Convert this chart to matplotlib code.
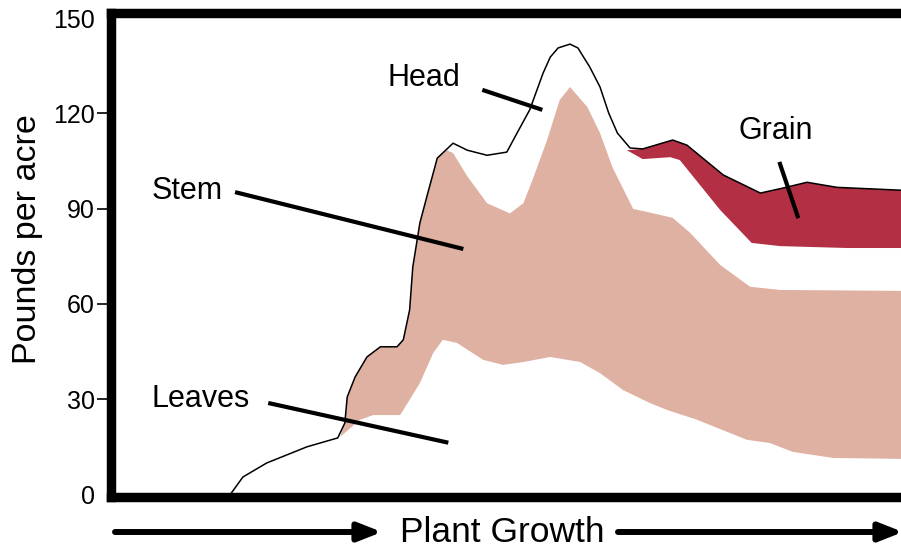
import numpy as np
import matplotlib
matplotlib.use('Agg')
import matplotlib.pyplot as plt

plt.rcParams['font.family'] = ['Liberation Sans', 'DejaVu Sans']

# growth stage (0-100, no ticks) vs pounds per acre
total_x = [15.1, 16.7, 19.7, 24.8, 28.7, 29.6, 29.9, 30.9, 32.4, 34.1, 36.2, 37.0, 37.8, 38.2, 39.1,
           40.1, 41.3, 43.3, 45.1, 47.6, 50.1, 51.4, 53.0, 54.7, 55.6, 56.6, 58.1, 59.1, 60.6, 61.9,
           63.0, 64.1, 65.7, 67.3, 71.1, 72.9, 77.5, 82.2, 85.1, 88.1, 91.9, 100]
total_y = [0, 5.5, 9.9, 15.0, 17.8, 22.5, 30.7, 37.0, 43.3, 46.5, 46.5, 48.7, 58.1, 71.6, 85.5,
           94.9, 105.9, 110.6, 108.4, 106.8, 107.8, 113.8, 121.1, 132.7, 137.7, 140.6, 141.8, 140.6, 134.6, 128.3,
           120.1, 113.8, 109.1, 108.8, 111.6, 110.0, 100.6, 94.9, 96.5, 98.3, 96.7, 95.8]

stem_x = [29.0, 29.6, 29.9, 30.9, 32.4, 34.1, 36.2, 37.0, 37.8, 38.2, 39.1, 40.1, 41.3, 42.5, 43.3,
          45.1, 47.6, 50.5, 52.2, 53.5, 55.2, 56.8, 58.1, 60.3, 61.9, 63.5, 66.1, 67.8, 71.1, 73.3,
          77.1, 80.9, 84.7, 100]
stem_y = [18.1, 22.5, 30.7, 37.0, 43.3, 46.5, 46.5, 48.7, 58.1, 71.6, 85.5, 94.9, 105.9, 108.4, 107.5,
          100.2, 91.7, 88.5, 91.7, 100.0, 111.6, 124.2, 128.3, 122.0, 113.8, 102.9, 89.9, 89.0, 87.1, 82.4,
          72.3, 65.4, 64.4, 64.1]

leaves_x = [29.0, 31.5, 33.2, 36.6, 37.8, 39.1, 40.8, 42.0, 43.8, 47.1, 49.6, 52.2, 55.6, 59.4, 61.9,
            64.8, 68.2, 70.4, 74.2, 80.5, 83.4, 86.3, 91.4, 100]
leaves_y = [18.1, 23.5, 25.0, 25.0, 29.8, 35.1, 44.6, 48.7, 47.7, 42.4, 40.8, 41.7, 43.3, 41.7, 38.2,
            32.9, 28.8, 26.6, 23.5, 17.2, 16.2, 13.4, 11.5, 11.2]

grain_lo_x = [65.3, 67.3, 70.8, 72.0, 77.1, 81.1, 84.7, 93.2, 100]
grain_lo = [108.4, 105.6, 106.2, 105.3, 89.6, 79.2, 78.2, 77.6, 77.6]
grain_hi_x = [65.3, 67.3, 71.1, 72.9, 77.5, 82.2, 85.1, 88.1, 91.9, 100]
grain_hi = [108.4, 108.8, 111.6, 110.0, 100.6, 94.9, 96.5, 98.3, 96.7, 95.8]

yticks = [0, 30, 60, 90, 120, 150]

W, H = 901, 550
fig = plt.figure(figsize=(W / 100, H / 100), dpi=100)
ax = fig.add_axes([111 / W, 1 - 497 / H, 1 - 111 / W, (497 - 13) / H])

# stem band (leaves below it stay white)
ax.fill(np.r_[leaves_x, stem_x[::-1]], np.r_[leaves_y, stem_y[::-1]],
        color='#deb1a3', lw=0, zorder=1)
# grain band
ax.fill(np.r_[grain_lo_x, grain_hi_x[::-1]], np.r_[grain_lo, grain_hi[::-1]],
        color='#b22f44', lw=0, zorder=1)
# total outline
ax.plot(total_x, total_y, color='k', lw=1.1, zorder=3)

ax.set_xlim(0, 100)
ax.set_ylim(-0.8, 151.6)
ax.set_xticks([])
ax.set_yticks(yticks)
ax.tick_params(axis='y', length=10, width=1.2, pad=1.5, labelsize=18)
# end ticks sit under the frame in the original
for t in (ax.yaxis.get_major_ticks()[0], ax.yaxis.get_major_ticks()[-1]):
    t.tick1line.set_visible(False)
for s in ['left', 'top', 'bottom']:
    ax.spines[s].set_linewidth(6.8)
ax.spines['right'].set_visible(False)

# pointer lines for the labels
ax.plot([47.0, 54.6], [127.4, 121.1], color='k', lw=3, solid_capstyle='butt', zorder=4)
ax.plot([15.7, 44.6], [95.2, 77.3], color='k', lw=3, solid_capstyle='butt', zorder=4)
ax.plot([19.9, 42.7], [28.8, 16.3], color='k', lw=3, solid_capstyle='butt', zorder=4)
ax.plot([84.6, 87.0], [104.7, 87.0], color='k', lw=3, solid_capstyle='butt', zorder=4)

def ftxt(px, py, s, size, **kw):
    fig.text(px / W, 1 - py / H, s, fontsize=size, **kw)

ftxt(388, 86, 'Head', 22, va='baseline')
ftxt(152, 199, 'Stem', 22, va='baseline')
ftxt(152, 407, 'Leaves', 22, va='baseline')
ftxt(738, 139, 'Grain', 22, va='baseline')
ftxt(28, 239, 'Pounds per acre', 24.5, rotation=90, ha='center', va='center')
ftxt(400, 542, 'Plant Growth', 25.5, va='baseline')

# growth arrows under the axis
aprops = dict(arrowstyle='-|>,head_length=14,head_width=5.5', lw=4.3, color='k',
              mutation_scale=1, shrinkA=0, shrinkB=0)
ax.annotate('', xy=(382 / W, 1 - 532 / H), xytext=(115 / W, 1 - 532 / H),
            xycoords='figure fraction', textcoords='figure fraction', arrowprops=aprops)
ax.annotate('', xy=(903 / W, 1 - 532 / H), xytext=(618 / W, 1 - 532 / H),
            xycoords='figure fraction', textcoords='figure fraction', arrowprops=aprops)

fig.savefig('out.png', dpi=100)
